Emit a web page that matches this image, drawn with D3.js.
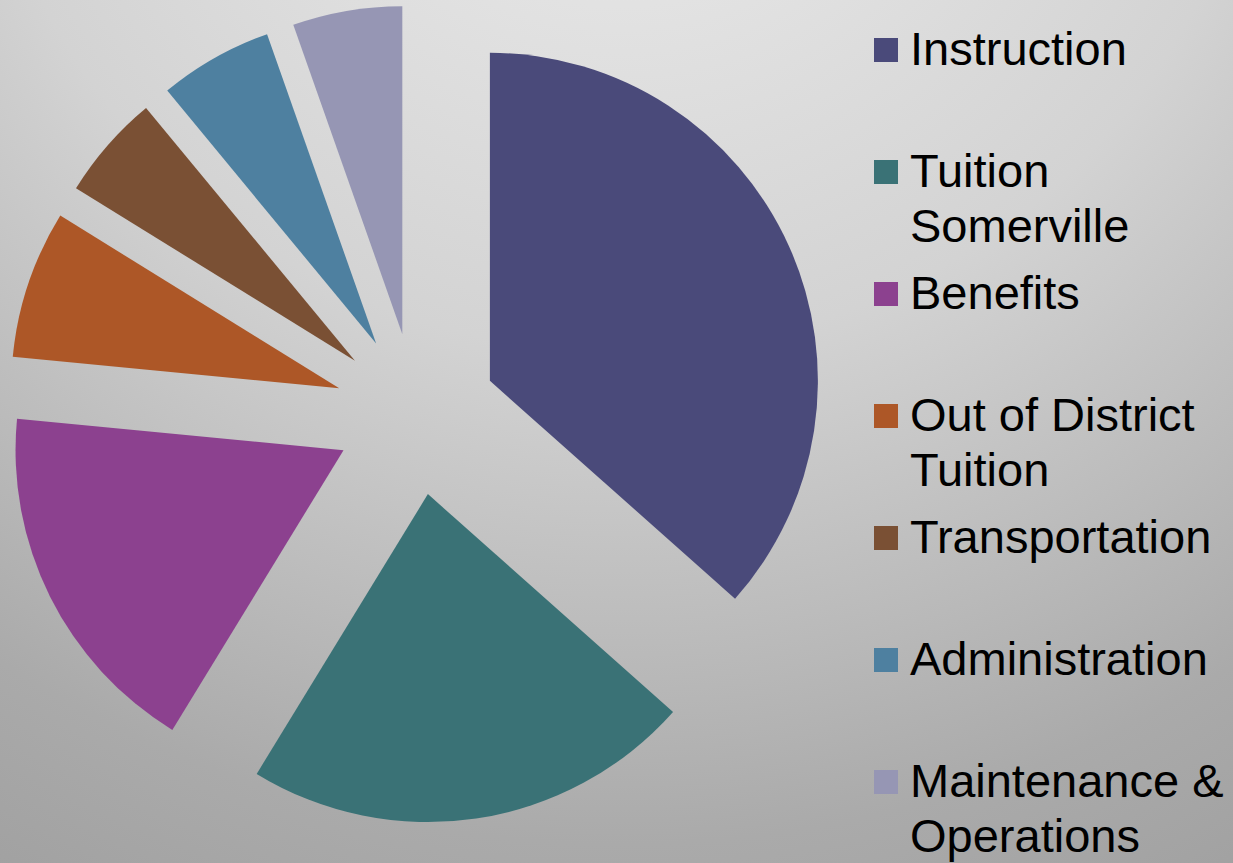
<!DOCTYPE html>
<html>
<head>
<meta charset="utf-8">
<script src="https://cdn.jsdelivr.net/npm/d3@7"></script>
<style>
  html, body { margin: 0; padding: 0; overflow: hidden; }
  svg { display: block; }
</style>
</head>
<body>
<div id="chart"></div>
<script>
// budget shares (percent)
const categories = ["Instruction", "Tuition Somerville", "Benefits", "Out of District Tuition",
    "Transportation", "Administration", "Maintenance & Operations"];
const values = [36.6, 22.2, 17.8, 7.3, 5.2, 5.6, 5.4];
const legendLines = [["Instruction"], ["Tuition", "Somerville"], ["Benefits"],
    ["Out of District", "Tuition"], ["Transportation"], ["Administration"],
    ["Maintenance &", "Operations"]];
const colors = ["#4a4a7a", "#3a7276", "#8c418f", "#ad5727", "#7a5034", "#4e80a0", "#9696b4"];

const width = 1233,
    height = 863,
    radius = 328,
    explode = 81,
    cx = 416,
    cy = 414;

const svg = d3
    .select("#chart")
    .append("svg")
    .attr("width", width)
    .attr("height", height)
    .attr("viewBox", [0, 0, width, height]);

// background: light grey at the top, darker towards the bottom corners
var grad = svg.append("defs")
    .append("radialGradient")
    .attr("id", "bg")
    .attr("gradientUnits", "userSpaceOnUse")
    .attr("cx", 620).attr("cy", -300)
    .attr("r", 1330);
[[0, "#e6e6e6"], [0.23, "#e2e2e2"], [0.49, "#d3d3d3"], [0.7, "#bcbcbc"],
    [0.86, "#aaaaaa"], [1, "#a1a1a1"]].forEach((s) => {
    grad.append("stop").attr("offset", s[0]).attr("stop-color", s[1]);
});

svg.append("rect")
    .attr("width", width)
    .attr("height", height)
    .attr("fill", "url(#bg)");

var data = categories.map((c, i) => ({ name: c, value: values[i], color: colors[i] }));

var pie = d3.pie().sort(null).value((d) => d.value);
var arc = d3.arc().innerRadius(0).outerRadius(radius);

// exploded slices: each pushed out along its middle angle
svg.append("g")
    .attr("transform", `translate(${cx},${cy})`)
    .selectAll("path")
    .data(pie(data))
    .join("path")
    .attr("d", arc)
    .attr("fill", (d) => d.data.color)
    .attr("transform", function (d) {
        var a = (d.startAngle + d.endAngle) / 2;
        return "translate(" + Math.sin(a) * explode + "," + -Math.cos(a) * explode + ")";
    });

// legend
var ly = d3.scaleLinear().domain([0, categories.length - 1]).range([65, 797]);

var legend = svg.append("g")
    .selectAll("g")
    .data(data)
    .join("g")
    .attr("transform", (d, i) => `translate(874,${ly(i)})`);

legend.append("rect")
    .attr("x", 0)
    .attr("y", -27)
    .attr("width", 24)
    .attr("height", 24)
    .attr("fill", (d) => d.color);

legend.append("text")
    .attr("x", 36)
    .attr("y", 0)
    .style("font-family", "'Liberation Sans', Arial, sans-serif")
    .style("font-size", "47px")
    .style("fill", "#000")
    .selectAll("tspan")
    .data((d, i) => legendLines[i])
    .join("tspan")
    .attr("x", 36)
    .attr("dy", (d, j) => (j === 0 ? 0 : 55))
    .text((d) => d);
</script>
</body>
</html>
